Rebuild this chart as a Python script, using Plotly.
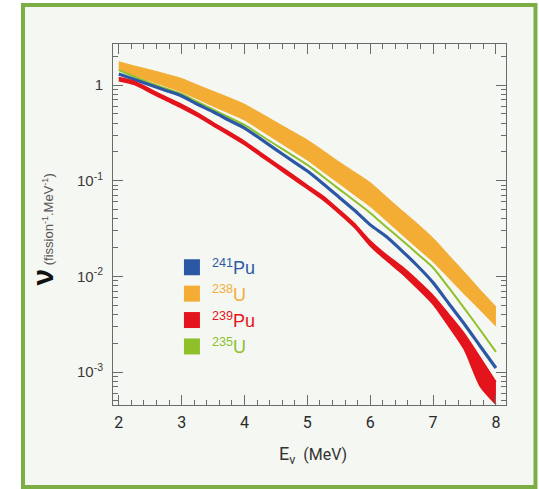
import plotly.graph_objects as go

# Neutrino energy grid (MeV)
energy = [2.0, 2.25, 2.5, 2.75, 3.0, 3.25, 3.5, 3.75, 4.0, 4.25, 4.5, 4.75, 5.0,
          5.25, 5.5, 5.75, 6.0, 6.25, 6.5, 6.75, 7.0, 7.25, 7.5, 7.75, 8.0]

# 238U band (upper / lower)
u238_hi = [1.75, 1.58, 1.44, 1.30, 1.17, 1.00, 0.86, 0.74, 0.63, 0.51, 0.41, 0.33, 0.266,
           0.206, 0.158, 0.123, 0.0955, 0.0684, 0.049, 0.0355, 0.0251, 0.0166, 0.011, 0.0072, 0.0048]
u238_lo = [1.44, 1.26, 1.10, 0.966, 0.845, 0.714, 0.60, 0.51, 0.43, 0.339, 0.266, 0.209, 0.164,
           0.124, 0.094, 0.071, 0.0537, 0.0385, 0.0275, 0.0197, 0.0142, 0.0096, 0.0065, 0.00445, 0.0030]

# 235U
u235 = [1.43, 1.22, 1.05, 0.918, 0.805, 0.668, 0.555, 0.46, 0.382, 0.30, 0.236, 0.186, 0.146,
        0.11, 0.082, 0.0617, 0.046, 0.033, 0.024, 0.0172, 0.0123, 0.0076, 0.0046, 0.00275, 0.00162]

# 241Pu
pu241 = [1.30, 1.14, 1.0, 0.877, 0.767, 0.63, 0.525, 0.43, 0.355, 0.275, 0.211, 0.163, 0.126,
         0.093, 0.0676, 0.049, 0.0345, 0.0262, 0.0186, 0.0129, 0.0086, 0.0052, 0.00316, 0.00186, 0.0011]

# 239Pu band (upper / lower)
pu239_hi = [1.20, 1.09, 0.905, 0.75, 0.625, 0.51, 0.405, 0.325, 0.258, 0.198, 0.152, 0.117, 0.0895,
            0.069, 0.050, 0.0356, 0.0235, 0.0169, 0.0127, 0.0091, 0.0063, 0.0040, 0.0025, 0.00141, 0.00079]
pu239_lo = [1.11, 1.01, 0.835, 0.69, 0.575, 0.47, 0.375, 0.30, 0.238, 0.182, 0.140, 0.107, 0.0825,
            0.063, 0.0458, 0.0324, 0.0208, 0.0148, 0.0108, 0.0075, 0.0051, 0.0030, 0.0017, 0.00071, 0.00046]

y_tickvals = [1e-3, 1e-2, 1e-1, 1]
y_ticktext = ["10<sup>-3</sup>", "10<sup>-2</sup>", "10<sup>-1</sup>", "1"]
x_tickvals = [2, 3, 4, 5, 6, 7, 8]

BLUE = "#2b57a4"
ORANGE = "#f3ad35"
RED = "#e3141c"
GREEN = "#8fc02a"
BG = "#f5f7f2"
FRAME = "#7dad45"

fig = go.Figure()

# 238U band
fig.add_trace(go.Scatter(x=energy, y=u238_lo, mode="lines", line=dict(color=ORANGE, width=1, shape="spline", smoothing=0.6),
                         showlegend=False, hoverinfo="skip"))
fig.add_trace(go.Scatter(x=energy, y=u238_hi, mode="lines", line=dict(color=ORANGE, width=1, shape="spline", smoothing=0.6),
                         fill="tonexty", fillcolor=ORANGE, showlegend=False, hoverinfo="skip"))
# 235U
fig.add_trace(go.Scatter(x=energy, y=u235, mode="lines", line=dict(color=GREEN, width=2, shape="spline", smoothing=0.6),
                         showlegend=False))
# 241Pu
fig.add_trace(go.Scatter(x=energy, y=pu241, mode="lines", line=dict(color=BLUE, width=3.2, shape="spline", smoothing=0.6),
                         showlegend=False))
# 239Pu band
fig.add_trace(go.Scatter(x=energy, y=pu239_lo, mode="lines", line=dict(color=RED, width=1.5, shape="spline", smoothing=0.6),
                         showlegend=False, hoverinfo="skip"))
fig.add_trace(go.Scatter(x=energy, y=pu239_hi, mode="lines", line=dict(color=RED, width=1.5, shape="spline", smoothing=0.6),
                         fill="tonexty", fillcolor=RED, showlegend=False, hoverinfo="skip"))

# legend entries
legend_items = [
    (BLUE, "#2d5aa6", "241", "Pu"),
    (ORANGE, "#f2ad3a", "238", "U"),
    (RED, "#e3141c", "239", "Pu"),
    (GREEN, "#8dbf2c", "235", "U"),
]
for col, tcol, mass, sym in legend_items:
    fig.add_trace(go.Scatter(x=[None], y=[None], mode="markers",
                             marker=dict(symbol="square", size=16, color=col),
                             name=f"<span style='color:{tcol}'><sup>{mass}</sup>{sym}</span>"))

axis_common = dict(showline=True, linecolor="#6b6b6b", linewidth=1, mirror="allticks",
                   ticks="inside", tickcolor="#6b6b6b", showgrid=False, zeroline=False)

fig.update_xaxes(range=[1.908, 8.16], tickmode="array", tickvals=x_tickvals, ticklen=10, tickwidth=1,
                 minor=dict(ticks="inside", ticklen=5, tickcolor="#6b6b6b", dtick=0.2, tick0=2, showgrid=False),
                 tickfont=dict(family="Roboto", size=16, color="#2a2a2a"), ticklabelstandoff=3,
                 **axis_common)

minor_vals = [m * 10 ** e for e in range(-4, 1) for m in range(2, 10)]
fig.update_yaxes(type="log", range=[-3.345, 0.4286], tickmode="array", tickvals=y_tickvals, ticktext=y_ticktext,
                 ticklen=10, tickwidth=1,
                 minor=dict(ticks="inside", ticklen=5, tickcolor="#6b6b6b", tickmode="array", tickvals=minor_vals,
                            showgrid=False),
                 tickfont=dict(family="Liberation Sans", size=15, color="#3a3a3a"), ticklabelstandoff=6,
                 **axis_common)

fig.update_layout(
    width=539, height=489,
    margin=dict(l=113, r=33, t=44, b=84),
    paper_bgcolor="white", plot_bgcolor=BG,
    legend=dict(x=0.150, y=0.432, xanchor="left", yanchor="top", bgcolor="rgba(0,0,0,0)",
                font=dict(family="Liberation Sans", size=18), itemsizing="trace", tracegroupgap=0,
                traceorder="normal"),
    shapes=[dict(type="rect", xref="paper", yref="paper", x0=-0.229, x1=1.075, y0=-0.227, y1=1.108,
                 line=dict(color=FRAME, width=4), fillcolor=BG, layer="below")],
    annotations=[
        dict(xref="paper", yref="paper", x=-0.178, y=0.486, textangle=-90, showarrow=False,
             xanchor="center", yanchor="middle",
             text="<b><span style='font-size:30px;color:#111'>ν</span></b> "
                  "<span style='font-size:13px;color:#555'>(fission<sup>-1</sup>.MeV<sup>-1</sup>)</span>",
             font=dict(family="Liberation Sans", size=13, color="#555")),
        dict(xref="paper", yref="paper", x=0.51, y=-0.138, showarrow=False, xanchor="center", yanchor="middle",
             text="<span style='font-size:18px'>E<sub>ν</sub></span>  (MeV)",
             font=dict(family="Roboto", size=16, color="#333")),
    ],
)

fig.write_html("out.html", config={"displayModeBar": False},
               post_script="document.body.style.margin='0';document.body.style.overflow='hidden';")
